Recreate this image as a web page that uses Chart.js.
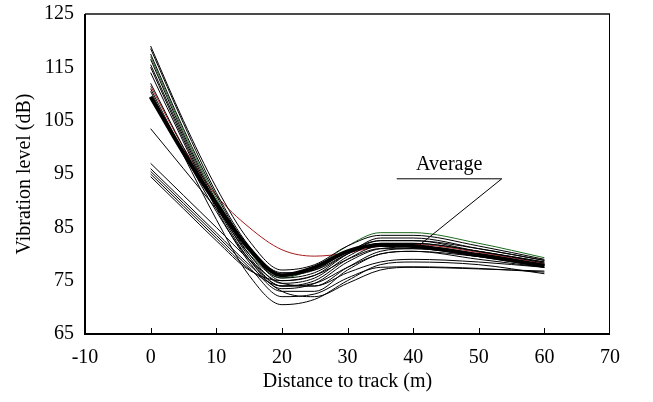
<!DOCTYPE html>
<html>
<head>
<meta charset="utf-8">
<script src="https://cdn.jsdelivr.net/npm/chart.js@4.4.0/dist/chart.umd.min.js"></script>
<style>
  html, body { margin: 0; padding: 0; background: #fff; }
  #wrap { width: 653px; height: 402px; }
</style>
</head>
<body>
<div id="wrap"><canvas id="chart" width="653" height="402"></canvas></div>
<script>
// distances (m) at which every curve is sampled
const distances = [0, 5, 10, 15, 20, 25, 30, 35, 40, 50, 60];

// averaged curve (thick)
const average = [109.5, 99, 89.5, 81, 76, 77.5, 80.5, 81.7, 81.5, 79.8, 77.8];

// measured curves (dB)
const redCurve   = [111.5, 100, 91, 85, 80.8, 79.6, 80.2, 81.5, 81.8, 80.3, 78.2];
const greenCurve = [117, 103, 90.5, 80.5, 75.5, 77.5, 81.5, 84, 84, 82, 79.3];
const m01 = [119, 105, 92.5, 82.5, 77, 78, 81.5, 83.5, 83.5, 81.5, 79];
const m02 = [118.5, 104.5, 91.5, 81.5, 76, 77, 80.5, 82.5, 82.5, 80.5, 78.5];
const m03 = [117.5, 103.5, 91, 81, 75, 76, 80, 83, 83, 81, 78.8];
const m04 = [116.5, 102.5, 90, 80, 74.5, 75.5, 79.5, 82, 82, 80.5, 78.5];
const m05 = [115.5, 102, 89.5, 79.5, 74, 75, 79, 81.5, 81.5, 80, 78];
const m06 = [115, 101.5, 89, 79, 73.5, 74.5, 78.5, 81, 81.3, 79.8, 77.8];
const m07 = [114, 101, 88.5, 78.5, 73, 73, 77, 80, 80.5, 79, 77.5];
const m08 = [112, 100, 89, 80, 75.5, 76.5, 80, 82.5, 82.5, 81, 78.8];
const m09 = [111, 99, 88, 79, 74, 74, 77.5, 80.5, 81, 79.5, 77.5];
const m10 = [110.5, 98.5, 86.5, 76, 70.5, 71.5, 75, 78, 78.5, 78, 76.3];
const m11 = [103.5, 96, 88.5, 81, 76.5, 77, 80, 82, 82, 80.5, 78.3];
const m12 = [97, 91, 85, 79, 74.5, 74, 76.5, 78.5, 79, 78.5, 77.5];
const m13 = [96, 90, 84, 78, 73, 72, 74.5, 77, 77.5, 77.2, 76.8];
const m14 = [95.5, 89.5, 83.5, 77.5, 72, 72.5, 75.5, 77.5, 77.6, 77.3, 76.6];
const m15 = [95, 89, 83, 77.2, 74, 74.5, 77.5, 80, 80.5, 79.5, 77.8];
const m16 = [94.5, 88.5, 82.5, 77, 75, 76, 79, 81, 81, 80, 78];

const xTicks = [-10, 0, 10, 20, 30, 40, 50, 60, 70];
const yTicks = [65, 75, 85, 95, 105, 115, 125];

const blackCurves = [m01, m02, m03, m04, m05, m06, m07, m08, m09, m10, m11, m12, m13, m14, m15, m16];

const FONT = 'Liberation Serif, "Times New Roman", serif';

function toPoints(values) {
  return values.map((v, i) => ({ x: distances[i], y: v }));
}

function line(values, color, width) {
  return {
    data: toPoints(values),
    borderColor: color,
    borderWidth: width,
    pointRadius: 0,
    fill: false,
    cubicInterpolationMode: 'monotone',
  };
}

const datasets = [line(average, '#000', 4)];
blackCurves.forEach((c) => datasets.push(line(c, '#000', 1)));
datasets.push(line(redCurve, '#a81818', 1));
datasets.push(line(greenCurve, '#1e6b1e', 1));

// frame, inward ticks and the "Average" callout
const framePlugin = {
  id: 'frame',
  afterDatasetsDraw(chart) {
    const { ctx, chartArea: a, scales: { x, y } } = chart;
    ctx.save();
    ctx.strokeStyle = '#000';
    ctx.lineWidth = 1;
    xTicks.slice(1, -1).forEach((t) => {
      const px = Math.round(x.getPixelForValue(t)) + 0.5;
      ctx.beginPath();
      ctx.moveTo(px, a.bottom);
      ctx.lineTo(px, a.bottom - 6);
      ctx.stroke();
    });

    // callout
    const x1 = x.getPixelForValue(37.5), x2 = x.getPixelForValue(53.5);
    const yl = y.getPixelForValue(94.1);
    ctx.beginPath();
    ctx.moveTo(x1, yl);
    ctx.lineTo(x2, yl);
    ctx.lineTo(x.getPixelForValue(41), y.getPixelForValue(81.7));
    ctx.stroke();
    ctx.fillStyle = '#000';
    ctx.font = '20px ' + FONT;
    ctx.textAlign = 'center';
    ctx.textBaseline = 'middle';
    ctx.fillText('Average', x.getPixelForValue(45.5), y.getPixelForValue(96.7));

    // box
    ctx.lineWidth = 2;
    ctx.strokeStyle = '#4a4a4a';
    ctx.beginPath();
    ctx.moveTo(a.left, a.top);
    ctx.lineTo(a.right, a.top);
    ctx.stroke();
    ctx.strokeStyle = '#000';
    ctx.lineWidth = 1;
    ctx.beginPath();
    ctx.moveTo(a.right - 0.5, a.top);
    ctx.lineTo(a.right - 0.5, a.bottom);
    ctx.stroke();
    ctx.lineWidth = 2;
    ctx.beginPath();
    ctx.moveTo(a.left, a.top);
    ctx.lineTo(a.left, a.bottom);
    ctx.lineTo(a.right, a.bottom);
    ctx.stroke();
    ctx.restore();
  },
};

new Chart(document.getElementById('chart'), {
  type: 'line',
  data: { datasets },
  plugins: [framePlugin],
  options: {
    responsive: false,
    animation: false,
    layout: { padding: { top: 14, right: 43, left: 0, bottom: 0 } },
    plugins: { legend: { display: false }, tooltip: { enabled: false } },
    scales: {
      x: {
        type: 'linear',
        min: -10,
        max: 70,
        afterFit: (s) => { s.height = 68; s.paddingLeft = 0; s.paddingRight = 0; },
        afterBuildTicks: (s) => { s.ticks = xTicks.map((v) => ({ value: v })); },
        grid: { display: false, drawTicks: false },
        border: { display: false },
        ticks: { padding: 12, color: '#000', font: { family: FONT, size: 20 } },
        title: {
          display: true,
          text: 'Distance to track (m)',
          color: '#000',
          font: { family: FONT, size: 20 },
          padding: { top: 0, bottom: 8 },
        },
      },
      y: {
        min: 65,
        max: 125,
        afterFit: (s) => { s.width = 85; s.paddingTop = 0; s.paddingBottom = 0; },
        afterBuildTicks: (s) => { s.ticks = yTicks.map((v) => ({ value: v })); },
        grid: { display: false, drawTicks: false },
        border: { display: false },
        ticks: { padding: 11, color: '#000', font: { family: FONT, size: 20 } },
        title: {
          display: true,
          text: 'Vibration level (dB)',
          color: '#000',
          font: { family: FONT, size: 20 },
          padding: { top: 13, bottom: 0 },
        },
      },
    },
  },
});
</script>
</body>
</html>
